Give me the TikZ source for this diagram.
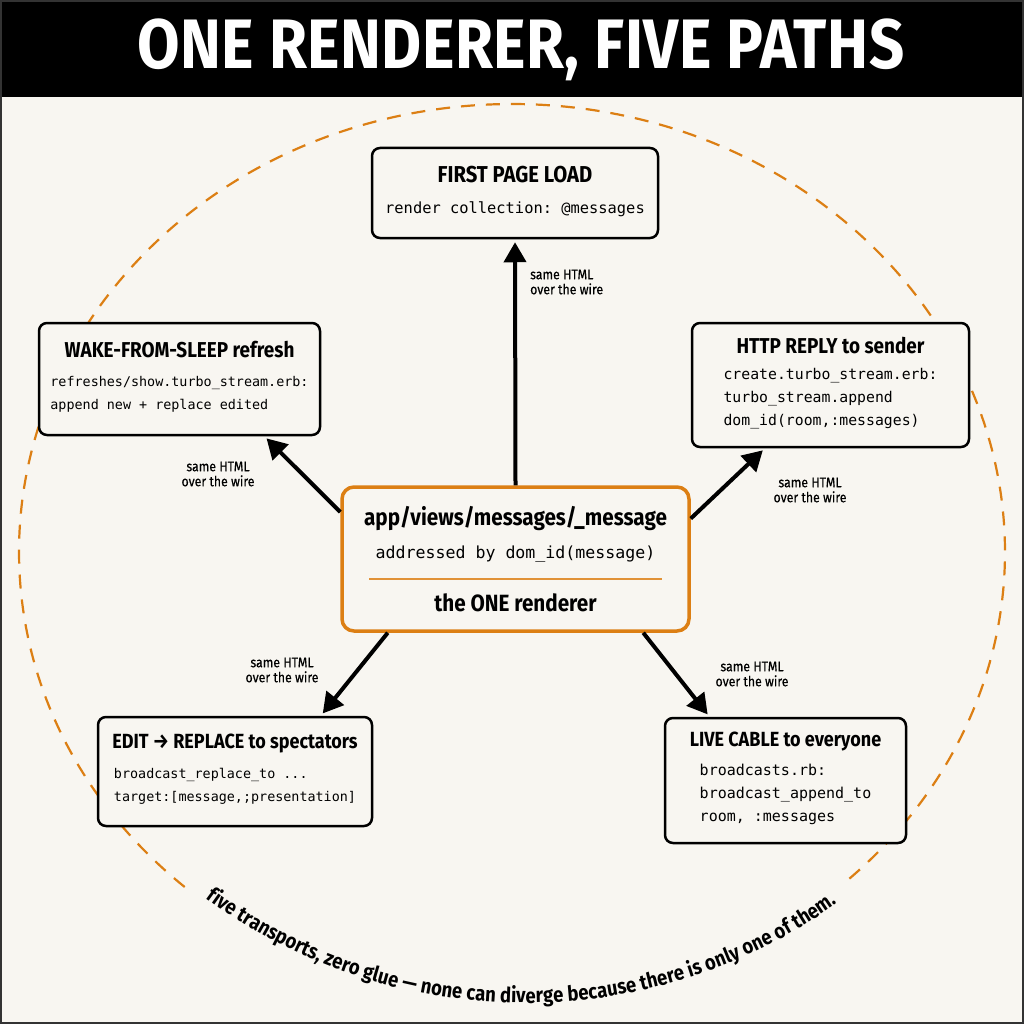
\documentclass[tikz,border=0pt]{standalone}
\usepackage{fontspec}
\usepackage{tikz}
\usetikzlibrary{arrows.meta,decorations.text}
\newfontfamily\headfont[FakeStretch=0.88]{Fira Sans}
\newfontfamily\labelfont[FakeStretch=0.88,FakeBold=0.4]{Fira Sans}
\newfontfamily\codefont{DejaVu Sans Mono}
\definecolor{paper}{HTML}{F8F6F1}
\definecolor{accent}{HTML}{DC7F14}
\newcommand{\boxtitle}[2]{{\headfont\bfseries\fontsize{#1}{#1}\selectfont #2}}
\newcommand{\boxcode}[2]{{\codefont\frenchspacing\fontsize{#1}{23}\selectfont\begin{tabular}[t]{@{}l@{}}#2\end{tabular}}}
\newcommand{\curvefont}{\headfont\bfseries\fontsize{21}{21}\selectfont}

\begin{document}
\begin{tikzpicture}[x=1pt, y=-1pt,
    card/.style={draw=black, line width=2.5pt, rounded corners=8pt, fill=paper, align=center, inner sep=0pt, font=\fontsize{10}{30}\selectfont},
    hubcard/.style={card, draw=accent, line width=3.5pt, rounded corners=12pt, font=\fontsize{10}{33}\selectfont},
    wire/.style={line width=4pt, -{Triangle[length=20pt, width=22pt]}, shorten >=3pt},
    wirelabel/.style={font=\labelfont\fontsize{14}{15}\selectfont, align=center, inner sep=0pt},
    orbit/.style={accent, line width=2.2pt, dash pattern=on 14pt off 11pt}]
    \useasboundingbox (0,0) rectangle (1024,1024);
    \fill[paper] (0,0) rectangle (1024,1024);
    \fill[black] (0,0) rectangle (1024,97);
    \draw[line width=2pt, black!80] (1,1) rectangle (1023,1023);
    \node[text=white, font=\headfont\bfseries\fontsize{70}{70}\selectfont\addfontfeatures{LetterSpace=0.6}] (head) at (521,50) {ONE RENDERER, FIVE PATHS};

    \draw[orbit] (512,552) ++(131.6:493 and 448) arc[start angle=131.6, end angle=407.2, x radius=493, y radius=448];
    \path[decorate, decoration={text along path, text align=center,
        text={|\curvefont|five transports, zero glue — none can diverge because there is only one of them.}}]
        (525,464) ++(128.5:539) arc[start angle=128.5, end angle=52.5, x radius=539, y radius=539];

    \node[card, minimum width=286pt, minimum height=90pt] (first) at (515,193)
        {\boxtitle{23}{FIRST PAGE LOAD}\\[1pt] \boxcode{15.4}{render collection: @messages}};
    \node[card, minimum width=281pt, minimum height=112pt] (wake) at (179.5,379)
        {\boxtitle{21.5}{WAKE-FROM-SLEEP refresh}\\[-1pt] \boxcode{13.4}{refreshes/show.turbo\_stream.erb:\\ append new + replace edited}};
    \node[card, minimum width=277pt, minimum height=124pt] (http) at (830.5,385)
        {\boxtitle{21.5}{HTTP REPLY to sender}\\[-4pt] \boxcode{14.8}{create.turbo\_stream.erb:\\ turbo\_stream.append\\ dom\_id(room,:messages)}};
    \node[card, minimum width=274pt, minimum height=109pt] (edit) at (235,771.5)
        {\boxtitle{20.5}{EDIT → REPLACE to spectators}\\ \boxcode{13.4}{broadcast\_replace\_to ...\\ target:[message,;presentation]}};
    \node[card, minimum width=241pt, minimum height=125pt] (live) at (785.5,780.5)
        {\boxtitle{20.5}{LIVE CABLE to everyone}\\[-1pt] \boxcode{15}{broadcasts.rb:\\ broadcast\_append\_to\\ room, :messages}};
    \node[hubcard, minimum width=347pt, minimum height=144pt] (hub) at (515.5,559)
        {\boxtitle{23.5}{app/views/messages/\_message}\\
         {\codefont\fontsize{16.6}{16.6}\selectfont addressed by dom\_id(message)}\\[-11.5pt]
         {\color{accent!85}\rule{293pt}{1.2pt}}\\[-1pt]
         \boxtitle{23.5}{the ONE renderer}};

    \draw[wire] (hub.north) -- (first.south);
    \draw[wire] (hub.165) -- (wake.-34);
    \draw[wire] (hub.13) -- (http.224);
    \draw[wire] (hub.210) -- (edit.33);
    \draw[wire] (hub.-30) -- (live.140);

    \node[wirelabel, anchor=west, align=left] (lbfirst) at (530,282) {same HTML\\over the wire};
    \node[wirelabel] (lbwake) at (218,474) {same HTML\\over the wire};
    \node[wirelabel] (lbhttp) at (810,490) {same HTML\\over the wire};
    \node[wirelabel] (lbedit) at (282,670) {same HTML\\over the wire};
    \node[wirelabel] (lblive) at (752,674) {same HTML\\over the wire};
\end{tikzpicture}
\end{document}
